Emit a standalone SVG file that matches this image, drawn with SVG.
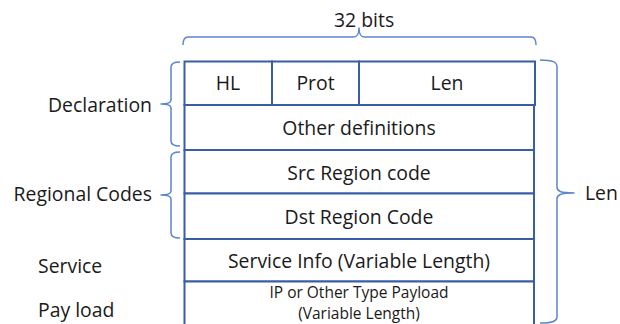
<svg xmlns="http://www.w3.org/2000/svg" width="620" height="324" viewBox="0 0 620 324">
<style>
  text { font-family: "Open Sans", "Noto Sans", "Liberation Sans", sans-serif; fill: #1a1a1a; font-size: 19.4px; }
  .c { text-anchor: middle; }
  .r { text-anchor: end; }
  .sm { font-size: 15.5px; }
  .cell { fill: #ffffff; stroke: #3A5DA8; stroke-width: 2; }
  .brace { fill: none; stroke: #5B86CF; stroke-width: 1.5; stroke-linejoin: round; }
</style>
<rect width="620" height="324" fill="#ffffff"/>

<g id="table">
  <g id="row-hl">
    <rect class="cell" x="184.5" y="61.5" width="87.5" height="43.5"/>
    <text class="c" x="228" y="90">HL</text>
  </g>
  <g id="row-prot">
    <rect class="cell" x="272" y="61.5" width="87" height="43.5"/>
    <text class="c" x="315.5" y="90">Prot</text>
  </g>
  <g id="row-len">
    <rect class="cell" x="359" y="61.5" width="176" height="43.5"/>
    <text class="c" x="447" y="90">Len</text>
  </g>
  <g id="row-other">
    <rect class="cell" x="184.5" y="105" width="349.5" height="45"/>
    <text class="c" x="359" y="135">Other definitions</text>
  </g>
  <g id="row-src">
    <rect class="cell" x="184.5" y="150" width="349.5" height="43.5"/>
    <text class="c" x="359" y="179.5">Src Region code</text>
  </g>
  <g id="row-dst">
    <rect class="cell" x="184.5" y="193.5" width="349.5" height="45.5"/>
    <text class="c" x="359" y="223.5">Dst Region Code</text>
  </g>
  <g id="row-service">
    <rect class="cell" x="184.5" y="239" width="349.5" height="42.5"/>
    <text class="c" x="359" y="267.5">Service Info (Variable Length)</text>
  </g>
  <g id="row-payload">
    <rect class="cell" x="184.5" y="281.5" width="349.5" height="50"/>
    <text class="c sm" x="359" y="297.5">IP or Other Type Payload</text>
    <text class="c sm" x="359" y="318.7">(Variable Length)</text>
  </g>
</g>

<g id="connectors">
  <path class="brace" d="M183,45 C183,40 184,37 188,37 L353,37 C357,37 359,35 359,28 C359,35 361,37 365,37 L531,37 C535,37 536,40 536,45"/>
  <path class="brace" d="M180,62 C174,62 171,63 171,67 L171,100 C171,103 168,104 161,104 C168,104 171,105 171,108 L171,141 C171,145 174,146 180,146"/>
  <path class="brace" d="M180,152 C174,152 171,153 171,157 L171,191 C171,194 168,195 161,195 C168,195 171,196 171,199 L171,233 C171,237 174,238 180,238"/>
  <path class="brace" d="M540,60 C553,60 557,62 557,67 L557,187 C557,191 560,193 574,193 C560,193 557,195 557,199 L557,317 C557,321 553,323 540,323"/>
</g>

<g id="labels">
  <text x="334" y="27">32 bits</text>
  <text class="r" x="152" y="111.5">Declaration</text>
  <text class="r" x="152" y="200.5">Regional Codes</text>
  <text x="38" y="273">Service</text>
  <text x="38" y="316.5">Pay load</text>
  <text x="585" y="199.5">Len</text>
</g>
</svg>
